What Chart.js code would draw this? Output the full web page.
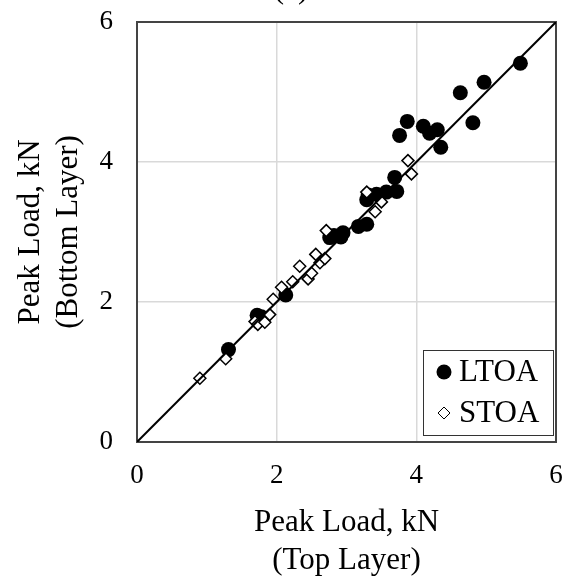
<!DOCTYPE html>
<html>
<head>
<meta charset="utf-8">
<script src="https://cdn.jsdelivr.net/npm/chart.js"></script>
<style>
  body { margin: 0; background: #fff; }
  canvas { display: block; }
</style>
</head>
<body>
<canvas id="myChart" width="564" height="578"></canvas>
<script>
// peak loads, kN: x = top layer, y = bottom layer
const ltoaTop    = [1.31, 1.72, 1.78, 2.13, 2.76, 2.82, 2.92, 2.95, 3.17, 3.29, 3.29, 3.31, 3.43, 3.57, 3.72, 3.69, 3.76, 3.87, 4.10, 4.19, 4.30, 4.35, 4.81, 4.63, 4.97, 5.49];
const ltoaBottom = [1.32, 1.81, 1.79, 2.10, 2.92, 2.95, 2.93, 2.99, 3.08, 3.11, 3.46, 3.53, 3.54, 3.57, 3.58, 3.78, 4.38, 4.58, 4.51, 4.41, 4.46, 4.21, 4.56, 4.99, 5.14, 5.41];
const stoaTop    = [0.90, 1.27, 1.69, 1.73, 1.83, 1.90, 1.95, 2.07, 2.23, 2.33, 2.45, 2.50, 2.56, 2.62, 2.69, 2.71, 3.29, 3.41, 3.50, 3.88, 3.93];
const stoaBottom = [0.91, 1.19, 1.72, 1.68, 1.71, 1.82, 2.04, 2.21, 2.29, 2.51, 2.33, 2.41, 2.68, 2.56, 2.62, 3.02, 3.57, 3.29, 3.43, 4.02, 3.83];
const lineOfEquality = [0, 6];
const tickValues = [0, 2, 4, 6];

const serif = "'Liberation Serif', 'Times New Roman', serif";
const pairs = (xs, ys) => xs.map((x, i) => ({ x: x, y: ys[i] }));

// full box round the plot
const frame = {
    id: 'frame',
    beforeDatasetsDraw(chart) {
        const { ctx, chartArea: a } = chart;
        ctx.save();
        ctx.strokeStyle = '#444';
        ctx.lineWidth = 2;
        ctx.strokeRect(a.left, a.top, a.right - a.left, a.bottom - a.top);
        ctx.restore();
    }
};

// boxed legend in the lower right corner
const boxLegend = {
    id: 'boxLegend',
    afterDraw(chart) {
        const { ctx, chartArea: a } = chart;
        const items = chart.data.datasets.filter(d => d.label);
        const w = 130, h = 85;
        const left = a.right - 3 - w, top = a.bottom - 7 - h;
        ctx.save();
        ctx.fillStyle = '#fff';
        ctx.fillRect(left, top, w, h);
        ctx.strokeStyle = '#333';
        ctx.lineWidth = 1;
        ctx.strokeRect(left + 0.5, top + 0.5, w, h);
        ctx.font = '31px ' + serif;
        ctx.textBaseline = 'middle';
        items.forEach((d, i) => {
            const y = top + 22 + i * 41;
            ctx.fillStyle = d.backgroundColor;
            ctx.strokeStyle = d.borderColor;
            Chart.helpers.drawPoint(ctx, {
                pointStyle: d.pointStyle,
                radius: d.pointStyle === 'circle' ? 7.5 : 6,
                rotation: 0,
                borderWidth: d.borderWidth
            }, left + 21, y);
            ctx.fillStyle = '#000';
            ctx.textAlign = 'left';
            ctx.fillText(d.label, left + 36, y + 1);
        });
        ctx.restore();
    }
};

// panel letter, mostly above the top edge
const panelLetter = {
    id: 'panelLetter',
    afterDraw(chart) {
        const ctx = chart.ctx;
        ctx.save();
        ctx.font = '31px ' + serif;
        ctx.fillStyle = '#000';
        ctx.textAlign = 'center';
        ctx.textBaseline = 'alphabetic';
        ctx.fillText('(a)', 291, -2);
        ctx.restore();
    }
};

// fixed axis sizes, no extra room for overhanging labels
const fixSize = (prop, size) => scale => {
    scale[prop] = size;
    scale.paddingLeft = 0;
    scale.paddingRight = 0;
    scale.paddingTop = 0;
    scale.paddingBottom = 0;
};

const axisCommon = {
    type: 'linear',
    min: tickValues[0],
    max: tickValues[tickValues.length - 1],
    grid: { color: '#d9d9d9', lineWidth: 1.5, drawTicks: false },
    border: { display: false },
    afterBuildTicks: scale => { scale.ticks = tickValues.map(v => ({ value: v })); }
};

new Chart(document.getElementById('myChart'), {
    type: 'scatter',
    data: {
        datasets: [
            {
                data: pairs(lineOfEquality, lineOfEquality),
                showLine: true,
                borderColor: '#000',
                borderWidth: 2,
                pointRadius: 0,
                order: 0
            },
            {
                label: 'LTOA',
                data: pairs(ltoaTop, ltoaBottom),
                pointStyle: 'circle',
                pointRadius: 7.5,
                backgroundColor: '#000',
                borderColor: '#000',
                borderWidth: 0,
                order: 2
            },
            {
                label: 'STOA',
                data: pairs(stoaTop, stoaBottom),
                pointStyle: 'rectRot',
                pointRadius: 6,
                backgroundColor: '#fff',
                borderColor: '#000',
                borderWidth: 1.5,
                order: 1
            }
        ]
    },
    options: {
        responsive: false,
        animation: false,
        layout: { padding: { top: 22, right: 8, left: 0, bottom: 0 } },
        plugins: { legend: { display: false }, tooltip: { enabled: false } },
        scales: {
            x: Object.assign({}, axisCommon, {
                position: 'bottom',
                ticks: { padding: 18, color: '#000', font: { family: serif, size: 27 } },
                title: {
                    display: true,
                    text: ['Peak Load, kN', '(Top Layer)'],
                    color: '#000',
                    font: { family: serif, size: 31, lineHeight: 1.23 },
                    padding: { top: 0, bottom: -2 }
                },
                afterFit: fixSize('height', 136)
            }),
            y: Object.assign({}, axisCommon, {
                position: 'left',
                ticks: { padding: 24, color: '#000', font: { family: serif, size: 27 } },
                title: {
                    display: true,
                    text: ['Peak Load, kN', '(Bottom Layer)'],
                    color: '#000',
                    font: { family: serif, size: 31, lineHeight: 1.23 },
                    padding: { top: 12, bottom: 0 }
                },
                afterFit: fixSize('width', 137)
            })
        }
    },
    plugins: [frame, boxLegend, panelLetter]
});
</script>
</body>
</html>
